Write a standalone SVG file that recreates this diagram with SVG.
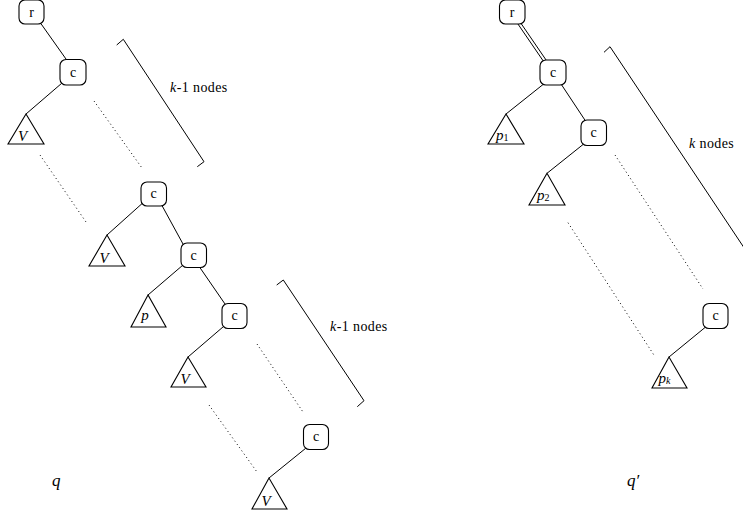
<svg xmlns="http://www.w3.org/2000/svg" width="743" height="516" viewBox="0 0 743 516">
<style>
.n{fill:#fff;stroke:#000;stroke-width:1.1}
.t{fill:#fff;stroke:#000;stroke-width:1.1;stroke-linejoin:miter}
.e{stroke:#000;stroke-width:1;fill:none}
.d{stroke:#000;stroke-width:1;fill:none;stroke-dasharray:1 3}
.lab{font-family:"Liberation Serif","DejaVu Serif",serif;font-size:14px;fill:#000;text-anchor:middle}
.it{font-family:"Liberation Serif","DejaVu Serif",serif;font-style:italic;fill:#000}
.txt{font-family:"Liberation Serif","DejaVu Serif",serif;font-size:14px;letter-spacing:0.4px;fill:#000}
</style>
<rect width="743" height="516" fill="#fff"/>
<g id="connectors">
<line class="e" x1="40.7" y1="23.3" x2="66.7" y2="60"/>
<line class="e" x1="61.7" y1="83.3" x2="26" y2="114"/>
<line class="e" x1="142.7" y1="203" x2="107" y2="235"/>
<line class="e" x1="161.7" y1="205" x2="183" y2="244"/>
<line class="e" x1="183" y1="265" x2="148" y2="295"/>
<line class="e" x1="199.3" y1="266.7" x2="225" y2="304"/>
<line class="e" x1="223.3" y1="326.7" x2="188" y2="357"/>
<line class="e" x1="305.7" y1="448.3" x2="269" y2="478"/>
<line class="d" x1="40" y1="155" x2="86" y2="222"/>
<line class="d" x1="94" y1="101" x2="142" y2="168"/>
<line class="d" x1="257" y1="344" x2="303" y2="412"/>
<line class="d" x1="209" y1="405" x2="257" y2="472"/>
<polyline class="e" points="116.7,45 123.3,39.3 204,161.7 197.3,166.7"/>
<polyline class="e" points="276.7,285 283.3,280 364,400.7 357.3,406.7"/>
<line class="e" x1="520.2" y1="22.2" x2="546.2" y2="60.2"/>
<line class="e" x1="517.8" y1="23.8" x2="543.8" y2="61.8"/>
<line class="e" x1="543.3" y1="84.3" x2="506" y2="114"/>
<line class="e" x1="561.7" y1="85" x2="586" y2="121.7"/>
<line class="e" x1="583.3" y1="144.3" x2="547" y2="173.3"/>
<line class="e" x1="706" y1="326.7" x2="669" y2="357"/>
<line class="d" x1="615" y1="155" x2="703" y2="289"/>
<line class="d" x1="568" y1="222.7" x2="655" y2="356.7"/>
<polyline class="e" points="604,52.3 610,46.7 770,286.7"/>
</g>
<g id="r1"><rect class="n" x="19" y="0" width="25" height="24" rx="6"/><text class="lab" x="31.5" y="16.5">r</text></g>
<g id="c1"><rect class="n" x="60" y="59.5" width="26" height="25.5" rx="6"/><text class="lab" x="73" y="76.5">c</text></g>
<g id="V1"><polygon class="t" points="26,114 8,144 44,144"/><text class="it" font-size="15" x="22.7" y="141" text-anchor="middle">V</text></g>
<g id="c2"><rect class="n" x="141" y="182" width="25.5" height="24" rx="6"/><text class="lab" x="153.7" y="198">c</text></g>
<g id="V2"><polygon class="t" points="107,235 89,266 125,266"/><text class="it" font-size="15" x="104" y="263" text-anchor="middle">V</text></g>
<g id="c3"><rect class="n" x="181" y="243" width="25.5" height="24.5" rx="6"/><text class="lab" x="193.7" y="259.5">c</text></g>
<g id="P"><polygon class="t" points="148,295 131,327 166,327"/><text class="it" font-size="15" x="145" y="320" text-anchor="middle">p</text></g>
<g id="c4"><rect class="n" x="222" y="303.5" width="25" height="25" rx="6"/><text class="lab" x="234.5" y="320">c</text></g>
<g id="V3"><polygon class="t" points="188,357 171,387 206,387"/><text class="it" font-size="15" x="185" y="384" text-anchor="middle">V</text></g>
<g id="c5"><rect class="n" x="303.5" y="424.5" width="25" height="25" rx="6"/><text class="lab" x="316" y="441">c</text></g>
<g id="V4"><polygon class="t" points="269,478 252,509 287,509"/><text class="it" font-size="15" x="266" y="506" text-anchor="middle">V</text></g>
<g id="lbl1"><text class="txt" x="170" y="92"><tspan font-style="italic">k</tspan>-1 nodes</text></g>
<g id="lbl2"><text class="txt" x="330" y="331"><tspan font-style="italic">k</tspan>-1 nodes</text></g>
<g id="q"><text class="it" font-size="17" x="52" y="486">q</text></g>
<g id="r2"><rect class="n" x="499.5" y="0" width="25.5" height="24" rx="6"/><text class="lab" x="512.2" y="16.5">r</text></g>
<g id="c6"><rect class="n" x="540" y="60" width="26" height="25" rx="6"/><text class="lab" x="553" y="76.5">c</text></g>
<g id="p1"><polygon class="t" points="506,114 488,144 524,144"/><text class="it" font-size="15" x="496" y="140">p<tspan font-style="normal" font-size="10" dy="1">1</tspan></text></g>
<g id="c7"><rect class="n" x="581" y="120" width="25.5" height="25.5" rx="6"/><text class="lab" x="593.7" y="137">c</text></g>
<g id="p2"><polygon class="t" points="547,173.3 529,205 565,205"/><text class="it" font-size="15" x="537" y="200">p<tspan font-style="normal" font-size="10" dy="1">2</tspan></text></g>
<g id="c8"><rect class="n" x="703" y="303.5" width="25" height="25" rx="6"/><text class="lab" x="715.5" y="320">c</text></g>
<g id="pk"><polygon class="t" points="669,357 652,388 687,388"/><text class="it" font-size="15" x="658.5" y="383">p<tspan font-size="10" dy="1">k</tspan></text></g>
<g id="lbl3"><text class="txt" x="689" y="148"><tspan font-style="italic">k</tspan> nodes</text></g>
<g id="qp"><text class="it" font-size="17" x="627" y="486">q′</text></g>
</svg>
